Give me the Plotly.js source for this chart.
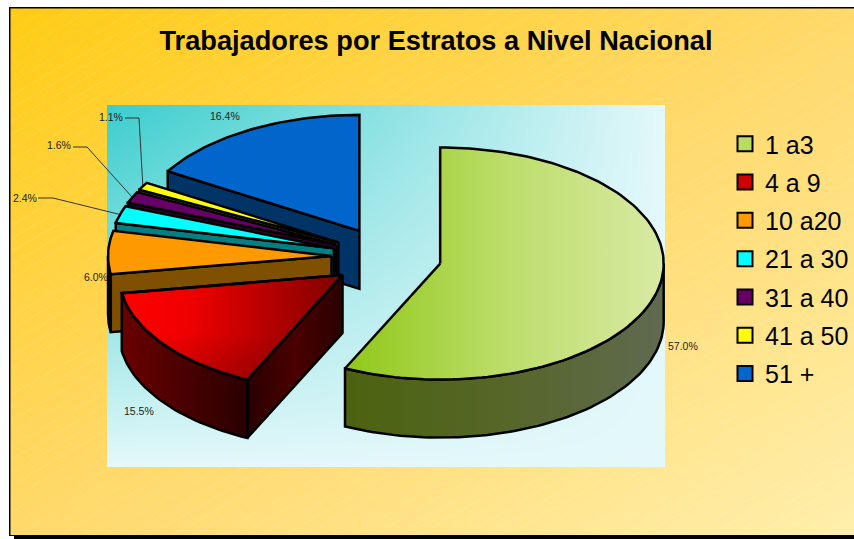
<!DOCTYPE html>
<html>
<head>
<meta charset="utf-8">
<script src="https://cdn.plot.ly/plotly-3.0.1.min.js"></script>
<style>html,body{margin:0;padding:0;background:#fff}#chart{width:854px;height:539px}</style>
</head>
<body>
<div id="chart"></div>
<script>
// ---- data ----
var categories = ['1 a3', '4 a 9', '10 a20', '21 a 30', '31 a 40', '41 a 50', '51 +'];
var shares = [57.0, 15.5, 6.0, 2.4, 1.6, 1.1, 16.4];
var titleText = 'Trabajadores por Estratos a Nivel Nacional';

// ---- styles ----
var topColors = ['#A8D030', '#E00000', '#FF9900', '#00FFFF', '#660066', '#FFFF00', '#0066CC'];
var wallColors = ['#4F6310', '#4A0000', '#7F5000', '#008080', '#330033', '#808000', '#003366'];
var arcColors = ['#5A6A30', '#4A0000', '#1A1000', '#004040', '#220022', '#404000', '#002244'];
var FONT = '"Liberation Sans", Arial, sans-serif';

// ---- projection of the tilted, exploded pie (pixel-valued axes) ----
var CX = 386.5, CY = 257, EX = 55, EY = 30, RX = 223.5, RY = 116, DEPTH = 58;
function pt(c, t) {
  var a = t * Math.PI / 180;
  return [c[0] + RX * Math.sin(a), c[1] - RY * Math.cos(a)];
}
var slices = [], acc = 0;
shares.forEach(function (v, i) {
  var a = acc / 100 * 360, b = (acc + v) / 100 * 360, m = (a + b) / 2 * Math.PI / 180;
  acc += v;
  slices.push({ i: i, a: a, b: b, c: [CX + EX * Math.sin(m), CY - EY * Math.cos(m)] });
});
function range(a, b) { var o = [], n = Math.max(2, Math.ceil((b - a) / 1.5)); for (var k = 0; k <= n; k++) o.push(a + (b - a) * k / n); return o; }

var traces = [];
function poly(points, color, grad) {
  var xs = points.map(function (p) { return p[0]; }), ys = points.map(function (p) { return p[1]; });
  xs.push(xs[0]); ys.push(ys[0]);
  var tr = { type: 'scatter', mode: 'lines', x: xs, y: ys, fill: 'toself', fillcolor: color,
    line: { color: '#000', width: 2.5 }, hoverinfo: 'skip', showlegend: false };
  if (grad) {
    var vert = grad.type === 'vertical', arr = vert ? ys : xs;
    tr.fillgradient = { type: grad.type, colorscale: grad.scale,
      start: Math.min.apply(null, arr), stop: Math.max.apply(null, arr) };
  }
  traces.push(tr);
}
function drawSlice(s) {
  var i = s.i;
  // wall along the starting radius
  if (s.a > 180) {
    var p = pt(s.c, s.a);
    poly([s.c, p, [p[0], p[1] + DEPTH], [s.c[0], s.c[1] + DEPTH]], wallColors[i],
      i === 1 ? { type: 'horizontal', scale: [[0, '#2A0000'], [0.5, '#4A0000'], [1, '#2A0000']] } : null);
  }
  // outer rim
  var ra = Math.max(s.a, 90), rb = Math.min(s.b, 270);
  if (rb > ra) {
    var top = range(ra, rb).map(function (t) { return pt(s.c, t); });
    var bot = top.slice().reverse().map(function (q) { return [q[0], q[1] + DEPTH]; });
    var g = null;
    if (i === 0) g = { type: 'horizontal', scale: [[0, '#4C6210'], [0.5, '#566628'], [1, '#5F6A50']] };
    if (i === 1) g = { type: 'horizontal', scale: [[0, '#6A0000'], [1, '#2A0000']] };
    poly(top.concat(bot), arcColors[i], g);
  }
  // top face
  var face = [s.c].concat(range(s.a, s.b).map(function (t) { return pt(s.c, t); }));
  var fg = null;
  if (i === 0) fg = { type: 'horizontal', scale: [[0, '#90C818'], [0.5, '#BCDD6A'], [1, '#D8EAA4']] };
  if (i === 1) fg = { type: 'horizontal', scale: [[0, '#FF0000'], [0.3, '#F00000'], [1, '#800000']] };
  poly(face, topColors[i], fg);
  if (i === 1) poly(face, 'rgba(0,0,0,0)', { type: 'vertical', scale: [[0, 'rgba(90,0,0,0)'], [0.55, 'rgba(90,0,0,0)'], [1, 'rgba(90,0,0,0.35)']] });
}
// back to front
[6, 5, 4, 3, 2, 1, 0].forEach(function (k) { drawSlice(slices[k]); });

// legend entries
var legendMarks = ['#B8DC60', '#D00000', '#FF9900', '#00FFFF', '#660066', '#FFFF00', '#0066CC'];
categories.forEach(function (c, i) {
  traces.push({ type: 'scatter', mode: 'markers', x: [null], y: [null], name: c, legendgroup: 'g' + i,
    marker: { symbol: 'square', size: 15, color: legendMarks[i], line: { color: '#000', width: 2 } }, hoverinfo: 'skip' });
});

// ---- percentage labels and leader lines ----
var labelPos = [[683, 346], [139, 411], [96, 277], [25, 198], [59, 145], [111, 117], [225, 116]];
var annotations = shares.map(function (v, i) {
  return { xref: 'x', yref: 'y', x: labelPos[i][0], y: labelPos[i][1], text: v.toFixed(1) + '%', showarrow: false,
    xanchor: 'center', yanchor: 'middle', font: { family: FONT, size: 10.5, color: '#222' } };
});
var leaderTail = { 3: [[38, 198], [53, 198]], 4: [[73, 147], [87, 147]], 5: [[125, 118], [139, 118]] };
var shapes = [];
Object.keys(leaderTail).forEach(function (k) {
  var s = slices[k], e = pt(s.c, (s.a + s.b) / 2), t = leaderTail[k];
  [[t[0], t[1]], [t[1], e]].forEach(function (seg) {
    shapes.push({ type: 'line', xref: 'x', yref: 'y', x0: seg[0][0], y0: seg[0][1], x1: seg[1][0], y1: seg[1][1],
      line: { color: '#333', width: 1 }, layer: 'below' });
  });
});

// ---- backgrounds painted to canvases ----
function lerp(a, b, t) { return a + (b - a) * t; }
function paper() {
  var W = 854, H = 539, cv = document.createElement('canvas'); cv.width = W; cv.height = H;
  var c = cv.getContext('2d');
  c.fillStyle = '#fff'; c.fillRect(0, 0, W, H);
  c.save();
  c.translate(10, 8); c.scale(W - 10, H - 11);
  var g = c.createLinearGradient(0, 0, 1, 1);
  g.addColorStop(0, '#FFCC14'); g.addColorStop(0.5, '#FFD96A'); g.addColorStop(1, '#FFEFAC');
  c.fillStyle = g; c.fillRect(0, 0, 1, 1);
  c.restore();
  c.save(); c.beginPath(); c.rect(10, 8, W - 10, H - 8); c.clip();
  c.strokeStyle = 'rgba(255,255,255,0.16)'; c.lineWidth = 1; c.setLineDash([2, 1]);
  for (var k = -600; k < 1500; k += 13) { c.beginPath(); c.moveTo(0, k); c.lineTo(W, k - W * 0.58); c.stroke(); }
  c.restore();
  c.fillStyle = '#000';
  c.fillRect(9, 7, W - 9, 1.5); c.fillRect(9, 7, 1.5, 529); c.fillRect(9, 535, W - 9, 1);
  c.fillRect(14, 536, W - 14, 3);
  return cv.toDataURL('image/png');
}
function plate() {
  var W = 558, H = 362, cv = document.createElement('canvas'); cv.width = W; cv.height = H;
  var c = cv.getContext('2d'), d = c.createImageData(W, H);
  for (var y = 0; y < H; y++) for (var x = 0; x < W; x++) {
    var u = Math.pow(x / W, 1.05), v = Math.pow(y / H, 1.05), t = 1 - (1 - u) * (1 - v), o = (y * W + x) * 4;
    d.data[o] = lerp(60, 228, t); d.data[o + 1] = lerp(205, 248, t); d.data[o + 2] = lerp(205, 250, t); d.data[o + 3] = 255;
  }
  c.putImageData(d, 0, 0);
  return cv.toDataURL('image/png');
}

var layout = {
  width: 854, height: 539, margin: { l: 0, r: 0, t: 0, b: 0 },
  paper_bgcolor: 'rgba(0,0,0,0)', plot_bgcolor: 'rgba(0,0,0,0)',
  title: { text: '<b>' + titleText + '</b>', x: 436 / 854, xref: 'paper', xanchor: 'center', y: 1 - 40 / 539, yref: 'paper', yanchor: 'middle',
    font: { family: FONT, size: 27.2, color: '#000' } },
  xaxis: { range: [0, 854], visible: false, fixedrange: true },
  yaxis: { range: [539, 0], visible: false, fixedrange: true },
  images: [
    { source: paper(), xref: 'paper', yref: 'paper', x: 0, y: 1, sizex: 1, sizey: 1, xanchor: 'left', yanchor: 'top', sizing: 'stretch', layer: 'below' },
    { source: plate(), xref: 'x', yref: 'paper', x: 107, y: 1 - 105 / 539, sizex: 558, sizey: 362 / 539, xanchor: 'left', yanchor: 'top', sizing: 'stretch', layer: 'below' }
  ],
  annotations: annotations, shapes: shapes,
  showlegend: true,
  legend: { x: 725 / 854, y: 1 - 121 / 539, xanchor: 'left', yanchor: 'top', bgcolor: 'rgba(0,0,0,0)', borderwidth: 0,
    tracegroupgap: 2.8, font: { family: FONT, size: 25, color: '#000' } }
};
Plotly.newPlot('chart', traces, layout, { staticPlot: true, displayModeBar: false });
</script>
</body>
</html>
